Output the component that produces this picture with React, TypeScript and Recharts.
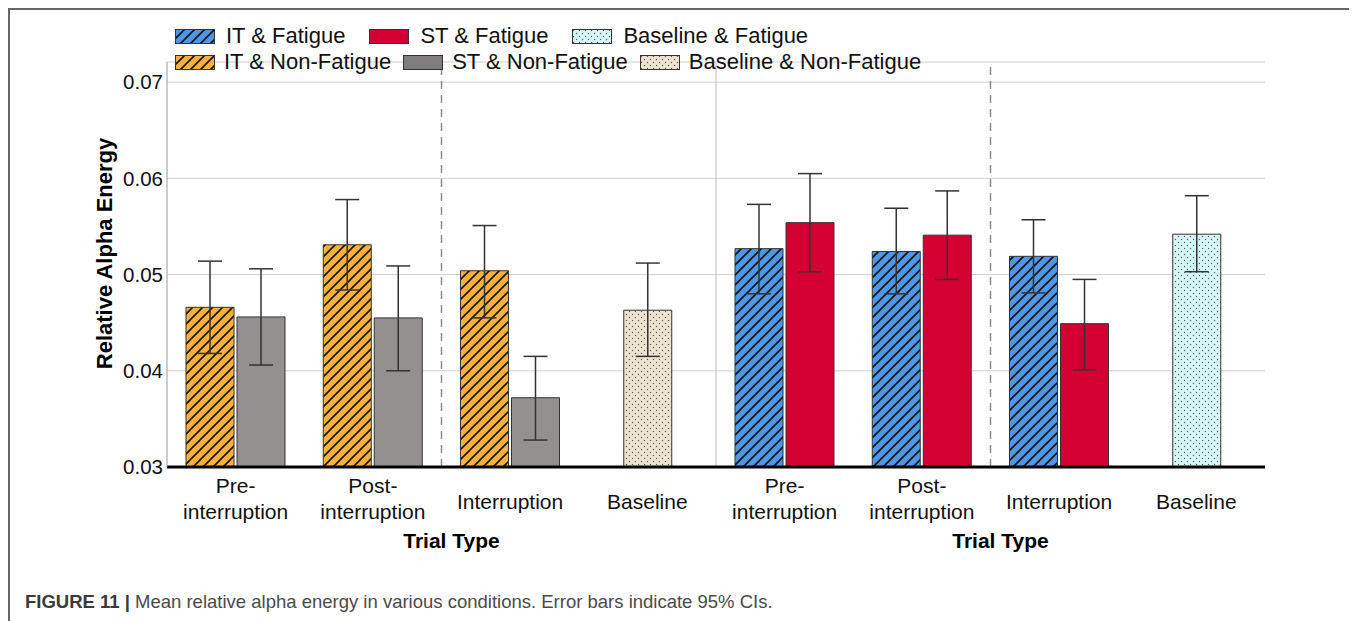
import React from 'react';
import { ComposedChart, Bar, XAxis, YAxis, CartesianGrid, ReferenceLine, ErrorBar, Cell } from 'recharts';

// one slot per trial type, non-fatigue panel first, then fatigue panel
const trialKeys = ['nf-pre', 'nf-post', 'nf-int', 'nf-base', 'f-pre', 'f-post', 'f-int', 'f-base'];
const trialLabels = ['Pre-|interruption', 'Post-|interruption', 'Interruption', 'Baseline', 'Pre-|interruption', 'Post-|interruption', 'Interruption', 'Baseline'];
const fatigued = [false, false, false, false, true, true, true, true];

// IT = interrupted task, ST = single task
const itMean = [0.0466, 0.0531, 0.0504, null, 0.0527, 0.0524, 0.0519, null];
const itLow = [0.0418, 0.0484, 0.0455, null, 0.048, 0.048, 0.0481, null];
const itHigh = [0.0514, 0.0578, 0.0551, null, 0.0573, 0.0569, 0.0557, null];
const stMean = [0.0456, 0.0455, 0.0372, null, 0.0554, 0.0541, 0.0449, null];
const stLow = [0.0406, 0.04, 0.0328, null, 0.0503, 0.0495, 0.0401, null];
const stHigh = [0.0506, 0.0509, 0.0415, null, 0.0605, 0.0587, 0.0495, null];
const blMean = [null, null, null, 0.0463, null, null, null, 0.0542];
const blLow = [null, null, null, 0.0415, null, null, null, 0.0503];
const blHigh = [null, null, null, 0.0512, null, null, null, 0.0582];

const yTicks = [0.03, 0.04, 0.05, 0.06, 0.07];

const err = (m: number | null, lo: number | null, hi: number | null) =>
  m == null || lo == null || hi == null ? undefined : [m - lo, hi - m];

const rows = trialKeys.map((key, i) => ({
  key,
  it: itMean[i],
  itErr: err(itMean[i], itLow[i], itHigh[i]),
  st: stMean[i],
  stErr: err(stMean[i], stLow[i], stHigh[i]),
  bl: blMean[i],
  blErr: err(blMean[i], blLow[i], blHigh[i]),
}));

const FONT = '"Liberation Sans", Arial, sans-serif';

const legendRows = [
  [
    { label: 'IT & Fatigue', fill: 'url(#hatchBlue)' },
    { label: 'ST & Fatigue', fill: '#d50032' },
    { label: 'Baseline & Fatigue', fill: 'url(#dotsCyan)' },
  ],
  [
    { label: 'IT & Non-Fatigue', fill: 'url(#hatchOrange)' },
    { label: 'ST & Non-Fatigue', fill: '#807c7c' },
    { label: 'Baseline & Non-Fatigue', fill: 'url(#dotsBeige)' },
  ],
];

const labelFor = (key: string) => trialLabels[trialKeys.indexOf(key)] || '';

const TrialTick = (props: any) => {
  const { x, y, payload } = props;
  const lines = labelFor(payload.value).split('|');
  return (
    <text x={x} y={y} textAnchor="middle" fontSize={21} fill="#111" fontFamily={FONT}>
      {lines.length === 2 ? (
        <>
          <tspan x={x} dy={26}>{lines[0]}</tspan>
          <tspan x={x} dy={26}>{lines[1]}</tspan>
        </>
      ) : (
        <tspan x={x} dy={42}>{lines[0]}</tspan>
      )}
    </text>
  );
};

function Patterns() {
  const hatch = (id: string, color: string) => (
    <pattern id={id} patternUnits="userSpaceOnUse" width={10} height={10}>
      <rect width={10} height={10} fill={color} />
      <path d="M0,10 L10,0 M-2.5,2.5 L2.5,-2.5 M7.5,12.5 L12.5,7.5" stroke="#111" strokeWidth={1.6} />
    </pattern>
  );
  const dots = (id: string, color: string) => (
    <pattern id={id} patternUnits="userSpaceOnUse" width={6} height={6}>
      <rect width={6} height={6} fill={color} />
      <circle cx={1.5} cy={1.5} r={0.7} fill="#555" />
      <circle cx={4.5} cy={4.5} r={0.7} fill="#555" />
    </pattern>
  );
  return (
    <svg width={0} height={0} style={{ position: 'absolute' }}>
      <defs>
        {hatch('hatchBlue', '#5096e4')}
        {hatch('hatchOrange', '#f9b03c')}
        {dots('dotsCyan', '#d6f7f7')}
        {dots('dotsBeige', '#ede4cf')}
      </defs>
    </svg>
  );
}

function LegendBox() {
  return (
    <div style={{ position: 'absolute', left: 165, top: 13, fontFamily: FONT, fontSize: 22, color: '#111' }}>
      {legendRows.map((row, r) => (
        <div key={r} style={{ display: 'flex', alignItems: 'center', height: 26 }}>
          {row.map((item) => (
            <div key={item.label} style={{ display: 'flex', alignItems: 'center', marginRight: r === 0 ? 24 : 12 }}>
              <svg width={40} height={15} style={{ marginRight: r === 0 ? 11 : 9 }}>
                <rect x={0.5} y={0.5} width={39} height={14} fill={item.fill} stroke="#333" />
              </svg>
              <span>{item.label}</span>
            </div>
          ))}
        </div>
      ))}
    </div>
  );
}

const trialTypeLabel = {
  value: 'Trial Type',
  position: 'bottom' as const,
  offset: 66,
  dx: 10,
  style: { fontSize: 21, fontWeight: 700, fill: '#000', fontFamily: FONT },
};

export default function App() {
  return (
    <div
      style={{
        position: 'relative',
        width: 1345,
        height: 611,
        borderTop: '2px solid #666',
        borderLeft: '2px solid #666',
        borderRight: '2px solid #666',
        background: '#fff',
      }}
    >
      <Patterns />
      <ComposedChart width={1345} height={560} data={rows} margin={{ top: 52, right: 90, bottom: 53, left: 87 }} barGap={3}>
        <CartesianGrid vertical={false} stroke="#cfcfcf" />
        <XAxis
          dataKey="key"
          height={50}
          interval={0}
          tick={<TrialTick />}
          tickLine={false}
          tickSize={0}
          tickMargin={0}
          axisLine={{ stroke: '#000', strokeWidth: 3 }}
        />
        <XAxis xAxisId="bl" dataKey="key" hide />
        <YAxis
          type="number"
          domain={[0.03, 0.0721]}
          ticks={yTicks}
          allowDataOverflow
          tickFormatter={(v: number) => v.toFixed(2)}
          width={70}
          tickLine={false}
          tickSize={0}
          tickMargin={4}
          axisLine={{ stroke: '#999' }}
          tick={{ fontSize: 20.5, fill: '#111', fontFamily: FONT }}
          label={{
            value: 'Relative Alpha Energy',
            angle: -90,
            position: 'insideLeft',
            offset: 7,
            dy: -11,
            style: { textAnchor: 'middle', fontSize: 22, fontWeight: 700, fill: '#000', fontFamily: FONT },
          }}
        />
        <ReferenceLine x="nf-post" position="end" stroke="#8c8c8c" strokeWidth={1.5} strokeDasharray="8 6" label={trialTypeLabel} />
        <ReferenceLine x="f-post" position="end" stroke="#8c8c8c" strokeWidth={1.5} strokeDasharray="8 6" label={trialTypeLabel} />
        <ReferenceLine x="nf-base" position="end" stroke="#bbb" strokeWidth={1} />
        <Bar dataKey="it" barSize={48} stroke="#333" strokeWidth={1} isAnimationActive={false}>
          {rows.map((r, i) => (
            <Cell key={r.key} fill={fatigued[i] ? 'url(#hatchBlue)' : 'url(#hatchOrange)'} />
          ))}
          <ErrorBar dataKey="itErr" width={12} stroke="#333" strokeWidth={1.5} isAnimationActive={false} />
        </Bar>
        <Bar dataKey="st" barSize={48} stroke="#333" strokeWidth={1} isAnimationActive={false}>
          {rows.map((r, i) => (
            <Cell key={r.key} fill={fatigued[i] ? '#d50032' : '#959090'} />
          ))}
          <ErrorBar dataKey="stErr" width={12} stroke="#333" strokeWidth={1.5} isAnimationActive={false} />
        </Bar>
        <Bar dataKey="bl" xAxisId="bl" barSize={48} stroke="#333" strokeWidth={1} isAnimationActive={false}>
          {rows.map((r, i) => (
            <Cell key={r.key} fill={fatigued[i] ? 'url(#dotsCyan)' : 'url(#dotsBeige)'} />
          ))}
          <ErrorBar dataKey="blErr" width={12} stroke="#333" strokeWidth={1.5} isAnimationActive={false} />
        </Bar>
      </ComposedChart>
      <LegendBox />
      <div style={{ position: 'absolute', left: 15, top: 581, fontFamily: FONT, fontSize: 18.5, color: '#4a4a4a' }}>
        <b style={{ color: '#3a3a3a' }}>FIGURE 11 | </b>Mean relative alpha energy in various conditions. Error bars indicate 95% CIs.
      </div>
    </div>
  );
}
